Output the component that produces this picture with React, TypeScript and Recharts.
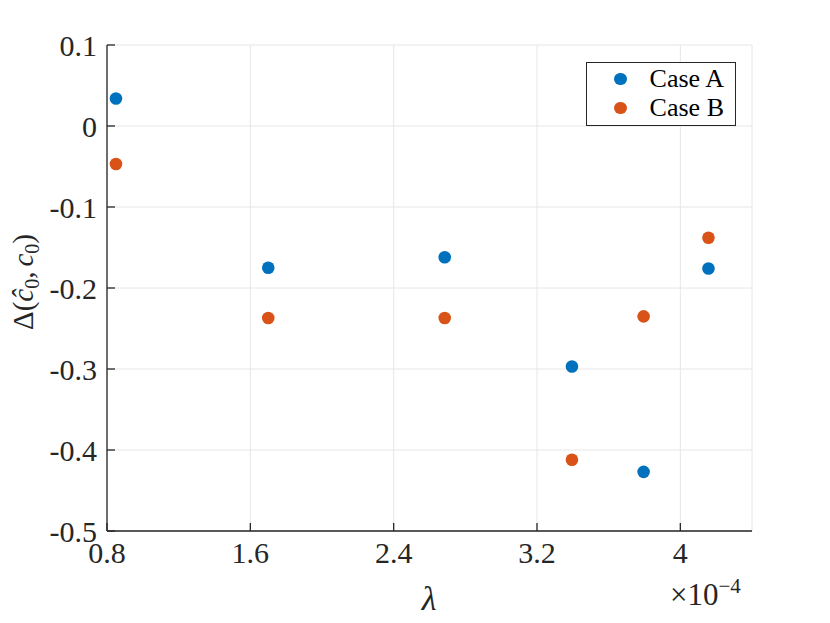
import React from 'react';
import {
  CartesianGrid,
  Scatter,
  ScatterChart,
  XAxis,
  YAxis,
} from 'recharts';

// lambda values (x 1e-4)
const lambdaVals = [0.85, 1.7, 2.685, 3.395, 3.795, 4.157];
const caseA = [0.034, -0.175, -0.162, -0.297, -0.427, -0.176];
const caseB = [-0.047, -0.237, -0.237, -0.412, -0.235, -0.138];

const xTicks = [0.8, 1.6, 2.4, 3.2, 4];
const yTicks = [0.1, 0, -0.1, -0.2, -0.3, -0.4, -0.5];

const BLUE = '#0072BD';
const ORANGE = '#D95319';
const FONT = '"Liberation Serif", "Times New Roman", serif';
const AXIS = '#262626';

const dataA = lambdaVals.map((x, i) => ({ x, y: caseA[i] }));
const dataB = lambdaVals.map((x, i) => ({ x, y: caseB[i] }));

const dot = (color: string) => (props: any) =>
  <circle cx={props.cx} cy={props.cy} r={6.3} fill={color} />;

const fmt = (v: number) => (v === 0 ? '0' : String(v));

const legendItems = [
  { name: 'Case A', color: BLUE },
  { name: 'Case B', color: ORANGE },
];

const LegendBox = () => (
  <div
    style={{
      position: 'absolute',
      left: 586,
      top: 62,
      width: 150,
      height: 64,
      border: '1px solid #262626',
      background: '#fff',
      boxSizing: 'border-box',
      fontFamily: FONT,
      fontSize: 26,
      color: '#000',
    }}
  >
    {legendItems.map((item, i) => (
      <div
        key={item.name}
        style={{
          position: 'absolute',
          left: 0,
          top: 1 + i * 29,
          height: 30,
          display: 'flex',
          alignItems: 'center',
          whiteSpace: 'nowrap',
        }}
      >
        <span
          style={{
            display: 'inline-block',
            width: 12.6,
            height: 12.6,
            borderRadius: '50%',
            background: item.color,
            marginLeft: 27,
          }}
        ></span>
        <span style={{ marginLeft: 23, lineHeight: '30px' }}>{item.name}</span>
      </div>
    ))}
  </div>
);

export default function App() {
  return (
    <div style={{ position: 'absolute', left: 0, top: 0, width: 830, height: 623, background: '#fff' }}>
      <ScatterChart
        width={830}
        height={623}
        margin={{ top: 45, right: 78, bottom: 32, left: 0 }}
      >
        <CartesianGrid stroke="#e6e6e6" strokeWidth={1} />
        <XAxis
          type="number"
          dataKey="x"
          domain={[0.8, 4.4]}
          ticks={xTicks}
          allowDataOverflow
          height={60}
          tickSize={-8}
          tickMargin={19}
          stroke={AXIS}
          strokeWidth={1.3}
          tick={{ fill: AXIS, fontFamily: FONT, fontSize: 30 }}
          tickFormatter={fmt}
        />
        <YAxis
          type="number"
          dataKey="y"
          domain={[-0.5, 0.1]}
          ticks={yTicks}
          allowDataOverflow
          width={107}
          tickSize={-8}
          tickMargin={18}
          stroke={AXIS}
          strokeWidth={1.3}
          tick={{ fill: AXIS, fontFamily: FONT, fontSize: 30 }}
          tickFormatter={fmt}
        />
        <Scatter name="Case A" data={dataA} fill={BLUE} shape={dot(BLUE)} isAnimationActive={false} />
        <Scatter name="Case B" data={dataB} fill={ORANGE} shape={dot(ORANGE)} isAnimationActive={false} />
      </ScatterChart>
      <LegendBox />
      <svg
        width={830}
        height={623}
        style={{ position: 'absolute', left: 0, top: 0, pointerEvents: 'none' }}
      >
        <text
          x={429}
          y={610}
          textAnchor="middle"
          fontFamily={FONT}
          fontStyle="italic"
          fontSize={34}
          fill={AXIS}
        >
          λ
        </text>
        <text x={670} y={605} fontFamily={FONT} fontSize={31} fill={AXIS}>
          ×10
          <tspan fontSize={21} dy={-12}>−4</tspan>
        </text>
        <text
          transform="translate(33, 282) rotate(-90)"
          textAnchor="middle"
          fontFamily={FONT}
          fontSize={29}
          fill={AXIS}
        >
          Δ(
          <tspan fontStyle="italic">ĉ</tspan>
          <tspan fontSize={20} dy={6}>0</tspan>
          <tspan dy={-6}>,</tspan>
          <tspan dx={5} fontStyle="italic">c</tspan>
          <tspan fontSize={20} dy={6}>0</tspan>
          <tspan dy={-6}>)</tspan>
        </text>
      </svg>
    </div>
  );
}
